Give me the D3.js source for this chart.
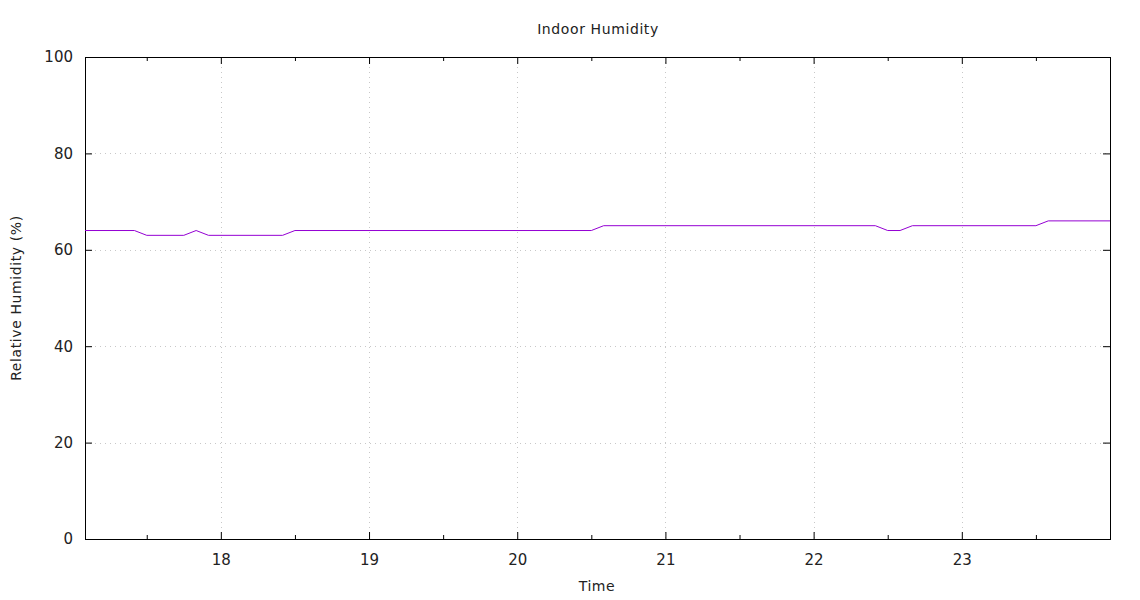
<!DOCTYPE html>
<html>
<head>
<meta charset="utf-8">
<script src="https://cdn.jsdelivr.net/npm/d3@7/dist/d3.min.js"></script>
<style>
  html, body { margin: 0; padding: 0; background: #fff; }
  svg { display: block; }
  text { font-family: "DejaVu Sans", sans-serif; fill: #222; }
</style>
</head>
<body>
<svg id="chart" width="1140" height="600"></svg>
<script>
// ---- data ----
const times = ["17:05","17:25","17:30","17:45","17:50","17:55","18:25","18:30",
               "20:30","20:35","22:25","22:30","22:35","22:40","23:30","23:35","24:00"];
const humidity = [64,64,63,63,64,63,63,64,64,65,65,64,64,65,65,66,66];
const xTickValues = [18,19,20,21,22,23];
const xMinorTickValues = [17.5,18.5,19.5,20.5,21.5,22.5,23.5];
const yTickValues = [0,20,40,60,80,100];
const titleText = "Indoor Humidity";
const xLabelText = "Time";
const yLabelText = "Relative Humidity (%)";

(function () {
const toHours = s => { const [h, m] = s.split(":").map(Number); return h + m / 60; };
const data = times.map((t, i) => ({ t: toHours(t), v: humidity[i] }));

const W = 1140, H = 600;
const margin = { left: 85, top: 57, right: 30, bottom: 61 };
const iw = W - margin.left - margin.right;
const ih = H - margin.top - margin.bottom;

const svg = d3.select("#chart");
const g = svg.append("g").attr("transform", `translate(${margin.left},${margin.top})`);

const x = d3.scaleLinear().domain([toHours("17:05"), 24]).range([0, iw]);
const y = d3.scaleLinear().domain([0, 100]).range([ih, 0]);

// grid
const gridColor = "#c8c8c8";
g.append("g").selectAll("line").data(xTickValues).join("line")
  .attr("x1", d => Math.round(x(d)) + 0.5).attr("x2", d => Math.round(x(d)) + 0.5)
  .attr("y1", 0).attr("y2", ih)
  .attr("stroke", gridColor).attr("stroke-width", 1).attr("stroke-dasharray", "1,4");
g.append("g").selectAll("line").data(yTickValues.filter(d => d > 0 && d < 100)).join("line")
  .attr("y1", d => Math.round(y(d)) + 0.5).attr("y2", d => Math.round(y(d)) + 0.5)
  .attr("x1", 0).attr("x2", iw)
  .attr("stroke", gridColor).attr("stroke-width", 1).attr("stroke-dasharray", "1,4");

// axes
function styleAxis(sel) {
  sel.select(".domain").remove();
  sel.selectAll(".tick line").attr("stroke", "#000").attr("stroke-width", 1);
  sel.selectAll(".tick text").style("font-size", "15px").attr("fill", "#222");
}
const axB = g.append("g").attr("transform", `translate(0,${ih})`)
  .call(d3.axisBottom(x).tickValues(xTickValues).tickFormat(d3.format("d"))
    .tickSizeInner(-7).tickSizeOuter(0).tickPadding(15));
styleAxis(axB);
const axBm = g.append("g").attr("transform", `translate(0,${ih})`)
  .call(d3.axisBottom(x).tickValues(xMinorTickValues).tickFormat("")
    .tickSizeInner(-4).tickSizeOuter(0));
styleAxis(axBm);
const axT = g.append("g")
  .call(d3.axisTop(x).tickValues(xTickValues).tickFormat("").tickSizeInner(-7).tickSizeOuter(0));
styleAxis(axT);
const axTm = g.append("g")
  .call(d3.axisTop(x).tickValues(xMinorTickValues).tickFormat("").tickSizeInner(-4).tickSizeOuter(0));
styleAxis(axTm);
const axL = g.append("g")
  .call(d3.axisLeft(y).tickValues(yTickValues).tickFormat(d3.format("d"))
    .tickSizeInner(-7).tickSizeOuter(0).tickPadding(12));
styleAxis(axL);
const axR = g.append("g").attr("transform", `translate(${iw},0)`)
  .call(d3.axisRight(y).tickValues(yTickValues).tickFormat("").tickSizeInner(-7).tickSizeOuter(0));
styleAxis(axR);

// border
g.append("rect").attr("x", 0.5).attr("y", 0.5).attr("width", iw).attr("height", ih)
  .attr("fill", "none").attr("stroke", "#000").attr("stroke-width", 1);

// line
const line = d3.line().x(d => x(d.t)).y(d => y(d.v));
g.append("path").datum(data).attr("d", line)
  .attr("fill", "none").attr("stroke", "#9400d3").attr("stroke-width", 1);

// titles
svg.append("text").attr("x", 598).attr("y", 34).attr("text-anchor", "middle")
  .style("font-size", "14px").style("letter-spacing", "0.6px").text(titleText);
svg.append("text").attr("x", 597).attr("y", 591).attr("text-anchor", "middle")
  .style("font-size", "14px").style("letter-spacing", "0.6px").text(xLabelText);
svg.append("text").attr("transform", "translate(21,298) rotate(-90)").attr("text-anchor", "middle")
  .style("font-size", "14px").style("letter-spacing", "0.6px").text(yLabelText);
})();
</script>
</body>
</html>
